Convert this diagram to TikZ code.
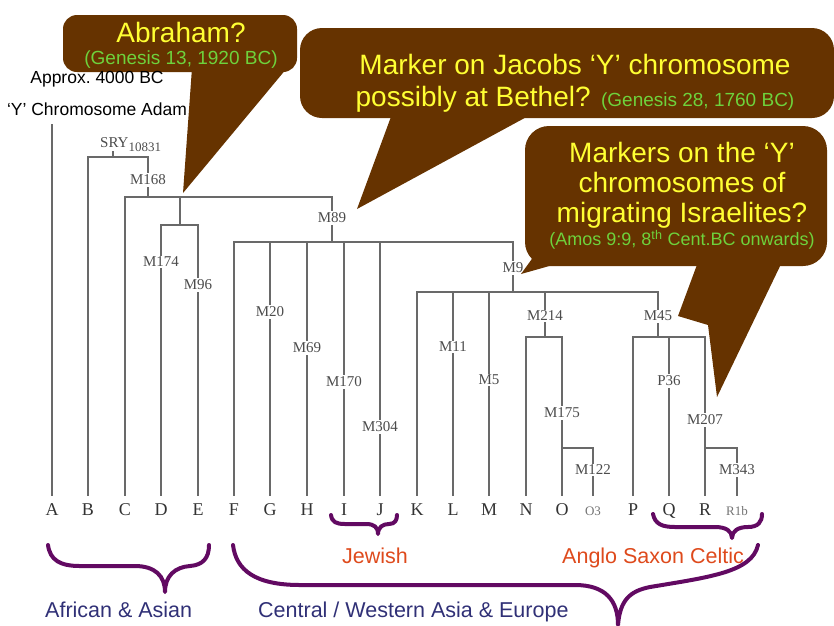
\documentclass[tikz,border=0pt]{standalone}
\usepackage{fontspec}
\setmainfont{Liberation Serif}
\newfontfamily\arialfont{Liberation Sans}
\definecolor{bubblebrown}{RGB}{102,51,0}
\definecolor{bubbleyellow}{RGB}{255,255,51}
\definecolor{bubblegreen}{RGB}{110,210,60}
\definecolor{branchgray}{RGB}{105,105,105}
\definecolor{bracepurple}{RGB}{98,10,98}
\definecolor{regionblue}{RGB}{48,48,118}
\definecolor{grouporange}{RGB}{222,74,28}
\newcommand{\scripref}[2][19]{{\color{bubblegreen}\fontsize{#1}{#1}\selectfont #2}}

\begin{document}
\begin{tikzpicture}[x=1pt, y=-1pt,
		branch/.style={draw=branchgray, line width=1.3pt},
		leaf/.style={anchor=base, inner xsep=0pt, inner ysep=6pt, text height=13pt, text depth=0pt, text=black!80, font=\fontsize{18}{18}\selectfont},
		subleaf/.style={leaf, text=black!55, font=\fontsize{13}{13}\selectfont},
		snp/.style={fill=white, inner xsep=1pt, inner ysep=1.5pt, text=black!70, font=\fontsize{15}{15}\selectfont},
		bubble/.style={fill=bubblebrown},
		bubbletext/.style={anchor=north, align=center, inner sep=0pt, text=bubbleyellow, font=\arialfont\fontsize{28}{30}\selectfont},
		brace/.style={draw=bracepurple, line width=4pt, line cap=round, line join=round},
		region/.style={anchor=base west, inner sep=0pt, text=regionblue, font=\arialfont\fontsize{21.5}{21.5}\selectfont},
		group/.style={region, text=grouporange}]
		\useasboundingbox (0,0) rectangle (834,625);
		
		% Leaves
		\foreach \n/\x in {A/52, B/88, C/125, D/161, E/198, F/234, G/270, H/307, I/344, J/380, K/417, L/453, M/489, N/526, O/562, P/633, Q/669, R/705}
			\node[leaf] (hg\n) at (\x,515) {\n};
		\node[subleaf] (hgO3) at (593,515) {O3};
		\node[subleaf] (hgR1b) at (737,515) {R1b};
		
		% Bars
		\coordinate (adam) at (52,124);
		\coordinate (sry) at (113,157);
		\coordinate (barB) at (148,157);
		\coordinate (barC) at (332,197);
		\coordinate (barD) at (180,225);
		\coordinate (barF) at (513,242);
		\coordinate (barK) at (658,292);
		\coordinate (barN) at (545,337);
		\coordinate (barP) at (658,337);
		\coordinate (barO) at (562,448);
		\coordinate (barR) at (705,448);
		
		% Branches
		\draw[branch] (hgA.north) -- (adam);
		\draw[branch] (hgB.north) |- (barB) -- (barB |- barC);
		\draw[branch] (sry) -- ++(0,-6);
		\draw[branch] (hgC.north) |- (barC) -- (barC |- barF);
		\draw[branch] (barD |- barC) -- (barD);
		\draw[branch] (hgD.north) |- (barD) -| (hgE.north);
		\draw[branch] (hgF.north) |- (barF) -- (barF |- barK);
		\foreach \n in {G,H,I,J}
			\draw[branch] (hg\n.north) -- (hg\n.north |- barF);
		\draw[branch] (hgK.north) |- (barK) -- (barP);
		\foreach \n in {L,M}
			\draw[branch] (hg\n.north) -- (hg\n.north |- barK);
		\draw[branch] (barN |- barK) -- (barN);
		\draw[branch] (hgN.north) |- (barN) -| (hgO.north);
		\draw[branch] (barO) -| (hgO3.north);
		\draw[branch] (hgP.north) |- (barP) -| (hgR.north);
		\draw[branch] (hgQ.north) -- (hgQ.north |- barP);
		\draw[branch] (barR) -| (hgR1b.north);
		
		% Markers
		\foreach \t/\x/\y in {M168/148/180, M174/161/262, M96/198/285, M89/332/218, M20/270/312, M69/307/348, M170/344/382, M304/380/427, M9/513/268, M11/453/347, M5/489/380, M214/545/316, M175/562/413, M122/593/470, M45/658/316, P36/669/381, M207/705/420, M343/737/470}
			\node[snp] (\t) at (\x,\y) {\t};
		\node[anchor=base west, inner sep=0pt, text=black!70, font=\fontsize{15}{15}\selectfont] (sry10831) at (100,147) {SRY\raisebox{-4pt}{\fontsize{13}{13}\selectfont 10831}};
		
		% Callouts
		\fill[bubble, rounded corners=14pt] (63,15) rectangle (297,72);
		\fill[bubble] (192,68) -- (183,193) -- (287,68) -- cycle;
		\node[bubbletext] (abraham) at (181,22.5) {Abraham?\\[-8pt]\scripref{(Genesis 13, 1920 BC)}};
		
		\fill[bubble, rounded corners=22pt] (300,28) rectangle (834,118);
		\fill[bubble] (392,114) -- (357,209) -- (532,114) -- cycle;
		\node[bubbletext] (jacob) at (575,54.5) {Marker on Jacobs ‘Y’ chromosome\\[2pt]possibly at Bethel? \scripref{(Genesis 28, 1760 BC)}};
		
		\fill[bubble, rounded corners=24pt] (525,126) rectangle (827,266);
		\fill[bubble] (534,256) -- (521,274) -- (560,263) -- cycle;
		\fill[bubble] (698,262) -- (678,316) -- (708,325) -- (717,397) -- (782,262) -- cycle;
		\node[bubbletext] (israelites) at (682,142.5) {Markers on the ‘Y’\\chromosomes of\\migrating Israelites?\\[-7pt]\scripref[18]{(Amos 9:9, 8\textsuperscript{th} Cent.BC onwards)}};
		
		% Adam
		\node[anchor=north, align=center, inner sep=0pt, font=\arialfont\fontsize{17.5}{32}\selectfont] (adamnote) at (97,71.5) {Approx.\ 4000 BC\\‘Y’ Chromosome Adam};
		
		% Braces
		\draw[brace] (331,515) .. controls (332,522) and (336,524) .. (345,524) -- (366,524) .. controls (374,524) and (378,527) .. (378,534) .. controls (378,527) and (383,524) .. (389,524) .. controls (395,524) and (397,520) .. (397,515);
		\draw[brace] (653,514) .. controls (655,524) and (662,527) .. (675,527) -- (715,527) .. controls (726,527) and (732,531) .. (732,538) .. controls (732,531) and (738,527) .. (748,527) .. controls (758,527) and (762,522) .. (762,514);
		\draw[brace] (48,545) .. controls (50,560) and (60,566) .. (80,566) -- (135,566) .. controls (155,566) and (165,576) .. (165,592) .. controls (165,576) and (175,567) .. (190,566) .. controls (203,565) and (209,558) .. (209,545);
		\draw[brace] (233,545) .. controls (236,570) and (255,585) .. (300,585) -- (575,585) .. controls (605,585) and (618,600) .. (618,625) .. controls (620,600) and (630,591) .. (650,587) .. controls (710,577) and (752,572) .. (758,545);
		
		% Groups
		\node[group] (jewish) at (342,563) {Jewish};
		\node[group] (celtic) at (562,563) {Anglo Saxon Celtic};
		\node[region] (african) at (45,617) {African \& Asian};
		\node[region] (central) at (258,617) {Central / Western Asia \& Europe};
	\end{tikzpicture}
\end{document}
